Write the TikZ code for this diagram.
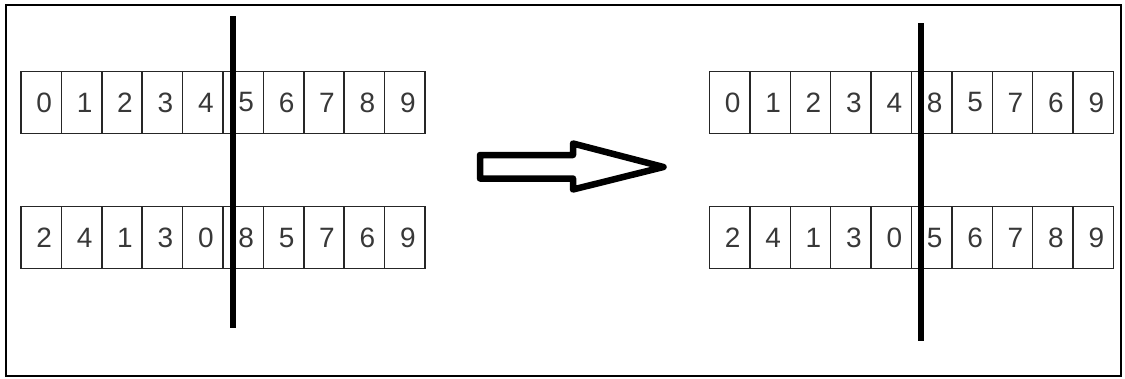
\documentclass[tikz,border=0pt]{standalone}
\usepackage{fontspec}
\setmainfont{Liberation Sans}
\usetikzlibrary{positioning}
\definecolor{digitgray}{HTML}{383838}

\begin{document}
\begin{tikzpicture}[x=1pt,y=-1pt,
  cell/.style={draw=black!85,line width=1.5pt,minimum width=40.4pt,minimum height=62pt,
    inner sep=0pt,outer sep=0pt,text=digitgray,font=\fontsize{28}{32}\selectfont,
    execute at begin node=\hspace*{6pt}},
  divider/.style={line width=6.5pt},
  hollow/.style={line width=6.5pt,line join=round}]
\useasboundingbox (0,0) rectangle (1125,378);
\draw[line width=2pt] (6,5) rectangle (1121,376);
% before the split
\foreach \d [count=\i from 0] in {0,1,2,3,4,5,6,7,8,9}
  \node[cell] (a\i) at (41.2+40.4*\i,102.5) {\d};
\foreach \d [count=\i from 0] in {2,4,1,3,0,8,5,7,6,9}
  \node[cell] (b\i) at (41.2+40.4*\i,237.5) {\d};
\coordinate (ltop) at (233,16);
\coordinate (lbot) at (233,328);
\draw[divider] (ltop) -- (lbot);
% after the split
\foreach \d [count=\i from 0] in {0,1,2,3,4,8,5,7,6,9}
  \node[cell] (c\i) at (729.7+40.4*\i,102.5) {\d};
\foreach \d [count=\i from 0] in {2,4,1,3,0,5,6,7,8,9}
  \node[cell] (d\i) at (729.7+40.4*\i,237.5) {\d};
\coordinate (rtop) at (921,23);
\coordinate (rbot) at (921,341);
\draw[divider] (rtop) -- (rbot);
% block arrow
\draw[hollow] (480,155) -- (573,155) -- (573,143.5) -- (663.5,167) -- (573,189.5)
  -- (573,178.5) -- (480,178.5) -- cycle;
\end{tikzpicture}
\end{document}
